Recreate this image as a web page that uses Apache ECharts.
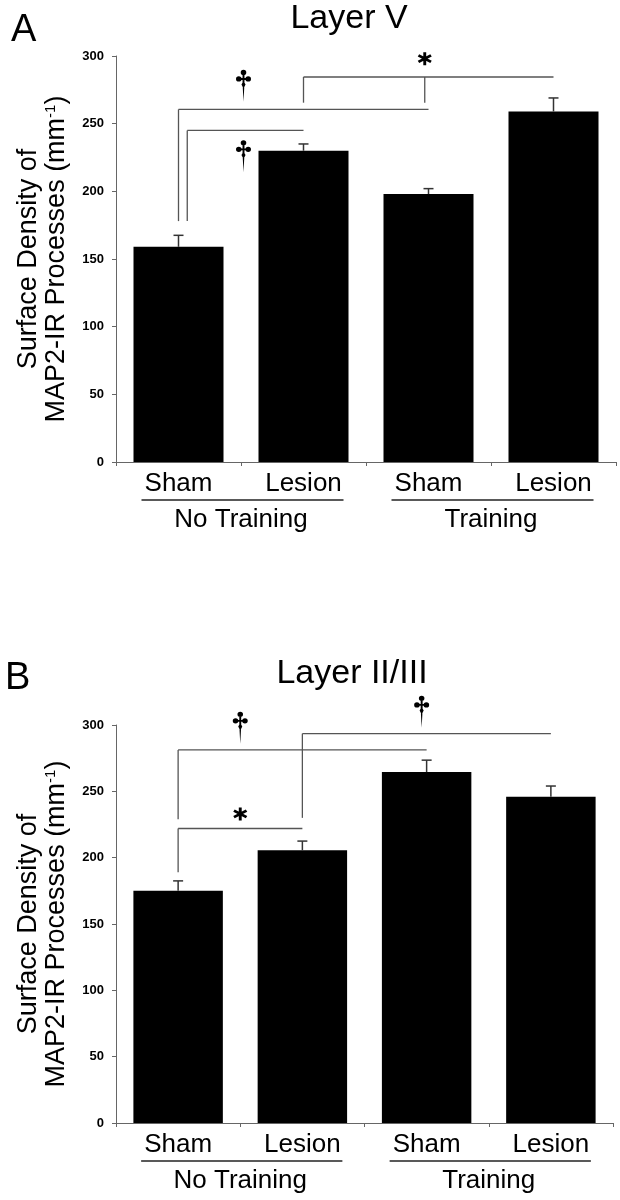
<!DOCTYPE html>
<html>
<head>
<meta charset="utf-8">
<script src="https://cdn.jsdelivr.net/npm/echarts@6/dist/echarts.min.js"></script>
<style>
  html, body { margin: 0; padding: 0; background: #fff; }
  #chart { width: 620px; height: 1200px; }
</style>
</head>
<body>
<div id="chart"></div>
<script>
// categories and groups
var categories = ['Sham', 'Lesion', 'Sham', 'Lesion'];
var groupNames = ['No Training', 'Training'];
var groupMembers = [[0, 1], [2, 3]];
var yMin = 0, yMax = 300, yStep = 50;

// A: Layer V
var layerVMean = [159, 230, 198, 259];
var layerVSem = [8.5, 5, 4, 10];
// B: Layer II/III
var layer23Mean = [175, 205.5, 264.5, 246];
var layer23Sem = [7.5, 7, 9, 8];

// significance brackets, x in category index units, y in mm-1
var layerVBrackets = [
    { from: 0.07, to: 1, level: 245, legs: [0.07], legEnd: 178 },
    { from: 0, to: 2, level: 260.5, legs: [0], legEnd: 178 },
    { from: 1, to: 3, level: 284.5, legs: [1, 1.97], legEnd: 265.5 }
];
var layer23Brackets = [
    { from: 0, to: 2, level: 281.2, legs: [0], legEnd: 229 },
    { from: 1, to: 3, level: 293.5, legs: [1], legEnd: 230 },
    { from: 0, to: 1, level: 222, legs: [0], legEnd: 189 }
];
// markers: [kind, x, y]
var layerVMarks = [['dagger', 0.52, 278], ['dagger', 0.52, 226], ['star', 1.97, 298]];
var layer23Marks = [['dagger', 0.5, 298], ['dagger', 1.96, 310], ['star', 0.5, 233]];

var FONT = "'Liberation Sans', Arial, Helvetica, sans-serif";
var DAGGER = 'path://M4.4 3A2.6 2.6 0 1 1 9.6 3A2.6 2.6 0 1 1 4.4 3Z' +
    'M0 9.5A2.6 2.6 0 1 1 5.2 9.5A2.6 2.6 0 1 1 0 9.5Z' +
    'M8.8 9.5A2.6 2.6 0 1 1 14 9.5A2.6 2.6 0 1 1 8.8 9.5Z' +
    'M2.6 8.6L11.4 8.6L11.4 10.4L2.6 10.4Z' +
    'M6.1 3L7.9 3L7.9 13L6.1 13Z' +
    'M7 11.5L8.9 15L7 19L5.1 15Z' +
    'M6.3 18L7.7 18L7 32Z';
var STAR = 'path://M4.8 0L7.2 0L7.2 12L4.8 12Z' +
    'M10.596 1.961L11.796 4.039L1.404 10.039L0.204 7.961Z' +
    'M0.204 4.039L1.404 1.961L11.796 7.961L10.596 10.039Z';
var markSymbol = { dagger: DAGGER, star: STAR };
var markSize = { dagger: [15, 32], star: [14, 13] };

var chart = echarts.init(document.getElementById('chart'));

function yAxisFor(grid) {
    return {
        type: 'value', gridIndex: grid, min: yMin, max: yMax, interval: yStep,
        splitLine: { show: false },
        axisLine: { show: true, onZero: false, lineStyle: { color: '#666', width: 1 } },
        axisTick: { show: true, length: 4, lineStyle: { color: '#666' } },
        axisLabel: { color: '#000', fontFamily: FONT, fontWeight: 'bold', fontSize: 13, margin: 12 },
        name: 'Surface Density of\nMAP2-IR Processes (mm{sup|-1})',
        nameLocation: 'middle', nameRotate: 90, nameGap: 45,
        nameTextStyle: {
            color: '#000', fontFamily: FONT, fontSize: 27, lineHeight: 28,
            rich: { sup: { fontFamily: FONT, fontSize: 15, lineHeight: 28, verticalAlign: 'top', color: '#000' } }
        }
    };
}
function catAxisFor(grid) {
    return {
        type: 'category', gridIndex: grid, data: categories,
        axisLine: { onZero: false, lineStyle: { color: '#666', width: 1 } },
        axisTick: { show: true, length: 4, lineStyle: { color: '#666' } },
        axisLabel: { color: '#000', fontFamily: FONT, fontSize: 26, margin: 9, interval: 0 }
    };
}
function valXAxisFor(grid) {
    return { type: 'value', gridIndex: grid, min: -0.5, max: 3.5, show: false };
}

function barSeries(ax, means) {
    return {
        type: 'bar', xAxisIndex: ax, yAxisIndex: ax / 2, data: means,
        barWidth: '72%', itemStyle: { color: '#000' }, z: 2
    };
}
function errorSeries(ax, means, sems) {
    return {
        type: 'custom', xAxisIndex: ax, yAxisIndex: ax / 2, z: 3,
        data: means.map(function (m, i) { return [i, m, sems[i]]; }),
        renderItem: function (params, api) {
            var base = api.coord([api.value(0), api.value(1)]);
            var top = api.coord([api.value(0), api.value(1) + api.value(2)]);
            var st = { stroke: '#333', lineWidth: 1.5 };
            return { type: 'group', children: [
                { type: 'line', shape: { x1: base[0], y1: base[1], x2: top[0], y2: top[1] }, style: st },
                { type: 'line', shape: { x1: top[0] - 5, y1: top[1], x2: top[0] + 5, y2: top[1] }, style: st }
            ] };
        }
    };
}
function bracketSeries(ax, list) {
    return {
        type: 'custom', xAxisIndex: ax, yAxisIndex: (ax - 1) / 2, z: 4,
        data: list.map(function (b, i) { return [b.from, b.level, i]; }),
        renderItem: function (params, api) {
            var b = list[api.value(2)];
            var st = { stroke: '#555', lineWidth: 1.3 };
            var p1 = api.coord([b.from, b.level]), p2 = api.coord([b.to, b.level]);
            var kids = [{ type: 'line', shape: { x1: p1[0], y1: p1[1], x2: p2[0], y2: p2[1] }, style: st }];
            b.legs.forEach(function (lx) {
                var a = api.coord([lx, b.level]), c = api.coord([lx, b.legEnd]);
                kids.push({ type: 'line', shape: { x1: a[0], y1: a[1], x2: c[0], y2: c[1] }, style: st });
            });
            return { type: 'group', children: kids };
        }
    };
}
function markSeries(ax, marks) {
    return {
        type: 'scatter', xAxisIndex: ax, yAxisIndex: (ax - 1) / 2, z: 5, clip: false, silent: true,
        itemStyle: { color: '#000', opacity: 1 },
        data: marks.map(function (m) {
            return { value: [m[1], m[2]], symbol: markSymbol[m[0]], symbolSize: markSize[m[0]] };
        })
    };
}
function groupSeries(ax) {
    return {
        type: 'custom', xAxisIndex: ax, yAxisIndex: (ax - 1) / 2, z: 4,
        data: groupMembers.map(function (g, i) { return [g[0], 0, i]; }),
        renderItem: function (params, api) {
            var g = groupMembers[api.value(2)];
            var l = api.coord([g[0], 0]), r = api.coord([g[1], 0]);
            var y0 = l[1];
            return { type: 'group', children: [
                { type: 'line', shape: { x1: l[0] - 37, y1: y0 + 38, x2: r[0] + 40, y2: y0 + 38 },
                  style: { stroke: '#222', lineWidth: 1.5 } },
                { type: 'text', x: (l[0] + r[0]) / 2, y: y0 + 45,
                  style: { text: groupNames[api.value(2)], fill: '#000', font: '26px ' + FONT,
                           textAlign: 'center', textVerticalAlign: 'top' } }
            ] };
        }
    };
}

var option = {
    animation: false,
    backgroundColor: '#fff',
    graphic: [
        { type: 'text', x: 11, y: 12, style: { text: 'A', font: '38px ' + FONT, fill: '#000', textVerticalAlign: 'top' } },
        { type: 'text', x: 349, y: 2, style: { text: 'Layer V', font: '34px ' + FONT, fill: '#000', textAlign: 'center', textVerticalAlign: 'top' } },
        { type: 'text', x: 5, y: 660, style: { text: 'B', font: '38px ' + FONT, fill: '#000', textVerticalAlign: 'top' } },
        { type: 'text', x: 352, y: 657, style: { text: 'Layer II/III', font: '34px ' + FONT, fill: '#000', textAlign: 'center', textVerticalAlign: 'top' } }
    ],
    grid: [
        { left: 116, right: 4, top: 56, bottom: 738 },
        { left: 116, right: 7, top: 725, bottom: 77 }
    ],
    xAxis: [catAxisFor(0), valXAxisFor(0), catAxisFor(1), valXAxisFor(1)],
    yAxis: [yAxisFor(0), yAxisFor(1)],
    series: [
        barSeries(0, layerVMean), errorSeries(0, layerVMean, layerVSem),
        bracketSeries(1, layerVBrackets), markSeries(1, layerVMarks), groupSeries(1),
        barSeries(2, layer23Mean), errorSeries(2, layer23Mean, layer23Sem),
        bracketSeries(3, layer23Brackets), markSeries(3, layer23Marks), groupSeries(3)
    ]
};
chart.setOption(option);
</script>
</body>
</html>
